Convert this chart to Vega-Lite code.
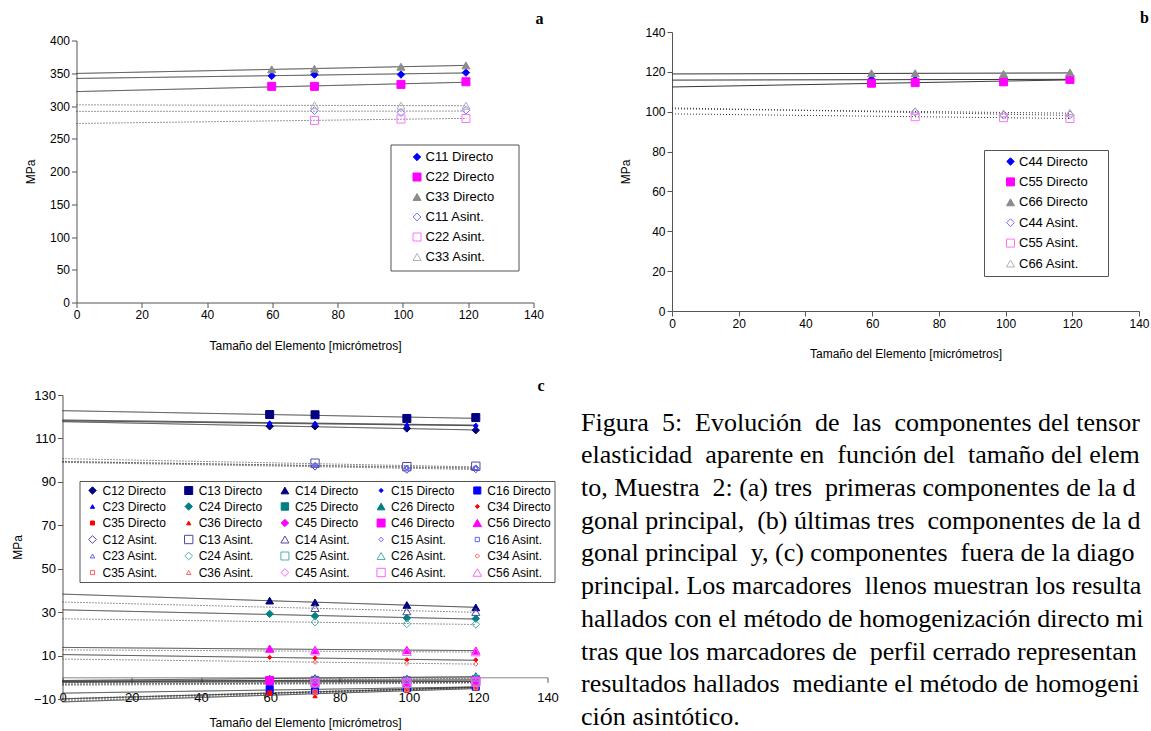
{
  "$schema": "https://vega.github.io/schema/vega-lite/v6.json",
  "background": "white",
  "padding": {"left": 10.5, "top": 10, "right": 0, "bottom": 0},
  "config": {
    "view": {"stroke": null},
    "font": "Liberation Sans",
    "axis": {"grid": false, "labelFont": "Liberation Sans", "titleFont": "Liberation Sans", "labelFontSize": 12, "titleFontSize": 12, "titleFontWeight": "normal", "labelColor": "#000", "titleColor": "#000", "domainColor": "#555", "tickColor": "#555", "tickSize": 5, "labelPadding": 2, "labelFlush": false, "labelOverlap": false},
    "legend": {"labelFont": "Liberation Sans", "labelFontSize": 12, "labelColor": "#000", "strokeColor": "#555", "fillColor": "#fff", "symbolStrokeWidth": 1, "labelOffset": 4},
    "title": {"font": "Liberation Serif", "fontSize": 16, "fontWeight": "bold", "color": "#000"}
  },
  "datasets": {
    "a": [
      {"serie": "C11 Directo", "metodo": "Directo", "tam": 59.8, "mpa": 346},
      {"serie": "C11 Directo", "metodo": "Directo", "tam": 72.9, "mpa": 348},
      {"serie": "C11 Directo", "metodo": "Directo", "tam": 99.4, "mpa": 348},
      {"serie": "C11 Directo", "metodo": "Directo", "tam": 119.3, "mpa": 351},
      {"serie": "C22 Directo", "metodo": "Directo", "tam": 59.8, "mpa": 330},
      {"serie": "C22 Directo", "metodo": "Directo", "tam": 72.9, "mpa": 330},
      {"serie": "C22 Directo", "metodo": "Directo", "tam": 99.4, "mpa": 333},
      {"serie": "C22 Directo", "metodo": "Directo", "tam": 119.3, "mpa": 337},
      {"serie": "C33 Directo", "metodo": "Directo", "tam": 59.8, "mpa": 356},
      {"serie": "C33 Directo", "metodo": "Directo", "tam": 72.9, "mpa": 357},
      {"serie": "C33 Directo", "metodo": "Directo", "tam": 99.4, "mpa": 360},
      {"serie": "C33 Directo", "metodo": "Directo", "tam": 119.3, "mpa": 362},
      {"serie": "C11 Asint.", "metodo": "Asint", "tam": 72.9, "mpa": 293},
      {"serie": "C11 Asint.", "metodo": "Asint", "tam": 99.4, "mpa": 290},
      {"serie": "C11 Asint.", "metodo": "Asint", "tam": 119.3, "mpa": 293.5},
      {"serie": "C22 Asint.", "metodo": "Asint", "tam": 72.9, "mpa": 278},
      {"serie": "C22 Asint.", "metodo": "Asint", "tam": 99.4, "mpa": 280},
      {"serie": "C22 Asint.", "metodo": "Asint", "tam": 119.3, "mpa": 281},
      {"serie": "C33 Asint.", "metodo": "Asint", "tam": 72.9, "mpa": 301},
      {"serie": "C33 Asint.", "metodo": "Asint", "tam": 99.4, "mpa": 300.5},
      {"serie": "C33 Asint.", "metodo": "Asint", "tam": 119.3, "mpa": 300.5}
    ],
    "b": [
      {"serie": "C44 Directo", "metodo": "Directo", "tam": 59.8, "mpa": 116.2},
      {"serie": "C44 Directo", "metodo": "Directo", "tam": 72.9, "mpa": 116.0},
      {"serie": "C44 Directo", "metodo": "Directo", "tam": 99.4, "mpa": 116.0},
      {"serie": "C44 Directo", "metodo": "Directo", "tam": 119.3, "mpa": 116.4},
      {"serie": "C55 Directo", "metodo": "Directo", "tam": 59.8, "mpa": 114.3},
      {"serie": "C55 Directo", "metodo": "Directo", "tam": 72.9, "mpa": 114.6},
      {"serie": "C55 Directo", "metodo": "Directo", "tam": 99.4, "mpa": 115.0},
      {"serie": "C55 Directo", "metodo": "Directo", "tam": 119.3, "mpa": 116.2},
      {"serie": "C66 Directo", "metodo": "Directo", "tam": 59.8, "mpa": 119.3},
      {"serie": "C66 Directo", "metodo": "Directo", "tam": 72.9, "mpa": 119.3},
      {"serie": "C66 Directo", "metodo": "Directo", "tam": 99.4, "mpa": 119.0},
      {"serie": "C66 Directo", "metodo": "Directo", "tam": 119.3, "mpa": 119.7},
      {"serie": "C44 Asint.", "metodo": "Asint", "tam": 72.9, "mpa": 99.8},
      {"serie": "C44 Asint.", "metodo": "Asint", "tam": 99.4, "mpa": 98.3},
      {"serie": "C44 Asint.", "metodo": "Asint", "tam": 119.3, "mpa": 98.4},
      {"serie": "C55 Asint.", "metodo": "Asint", "tam": 72.9, "mpa": 97.5},
      {"serie": "C55 Asint.", "metodo": "Asint", "tam": 99.4, "mpa": 97.0},
      {"serie": "C55 Asint.", "metodo": "Asint", "tam": 119.3, "mpa": 96.6},
      {"serie": "C66 Asint.", "metodo": "Asint", "tam": 72.9, "mpa": 100.3},
      {"serie": "C66 Asint.", "metodo": "Asint", "tam": 99.4, "mpa": 99.2},
      {"serie": "C66 Asint.", "metodo": "Asint", "tam": 119.3, "mpa": 99.5}
    ],
    "c": [
      {"serie": "C12 Directo", "metodo": "Directo", "tam": 59.8, "mpa": 115.6},
      {"serie": "C12 Directo", "metodo": "Directo", "tam": 72.9, "mpa": 115.6},
      {"serie": "C12 Directo", "metodo": "Directo", "tam": 99.4, "mpa": 114.6},
      {"serie": "C12 Directo", "metodo": "Directo", "tam": 119.3, "mpa": 113.8},
      {"serie": "C13 Directo", "metodo": "Directo", "tam": 59.8, "mpa": 121.0},
      {"serie": "C13 Directo", "metodo": "Directo", "tam": 72.9, "mpa": 120.9},
      {"serie": "C13 Directo", "metodo": "Directo", "tam": 99.4, "mpa": 119.2},
      {"serie": "C13 Directo", "metodo": "Directo", "tam": 119.3, "mpa": 119.6},
      {"serie": "C14 Directo", "metodo": "Directo", "tam": 59.8, "mpa": 35.3},
      {"serie": "C14 Directo", "metodo": "Directo", "tam": 72.9, "mpa": 34.5},
      {"serie": "C14 Directo", "metodo": "Directo", "tam": 99.4, "mpa": 33.3},
      {"serie": "C14 Directo", "metodo": "Directo", "tam": 119.3, "mpa": 32.2},
      {"serie": "C15 Directo", "metodo": "Directo", "tam": 59.8, "mpa": 117.0},
      {"serie": "C15 Directo", "metodo": "Directo", "tam": 72.9, "mpa": 116.8},
      {"serie": "C15 Directo", "metodo": "Directo", "tam": 99.4, "mpa": 116.0},
      {"serie": "C15 Directo", "metodo": "Directo", "tam": 119.3, "mpa": 116.0},
      {"serie": "C16 Directo", "metodo": "Directo", "tam": 59.8, "mpa": -5.5},
      {"serie": "C16 Directo", "metodo": "Directo", "tam": 72.9, "mpa": -6.0},
      {"serie": "C16 Directo", "metodo": "Directo", "tam": 99.4, "mpa": -5.0},
      {"serie": "C16 Directo", "metodo": "Directo", "tam": 119.3, "mpa": -4.3},
      {"serie": "C23 Directo", "metodo": "Directo", "tam": 59.8, "mpa": 117.3},
      {"serie": "C23 Directo", "metodo": "Directo", "tam": 72.9, "mpa": 117.1},
      {"serie": "C23 Directo", "metodo": "Directo", "tam": 99.4, "mpa": 116.4},
      {"serie": "C23 Directo", "metodo": "Directo", "tam": 119.3, "mpa": 116.2},
      {"serie": "C24 Directo", "metodo": "Directo", "tam": 59.8, "mpa": 29.2},
      {"serie": "C24 Directo", "metodo": "Directo", "tam": 72.9, "mpa": 28.2},
      {"serie": "C24 Directo", "metodo": "Directo", "tam": 99.4, "mpa": 27.3},
      {"serie": "C24 Directo", "metodo": "Directo", "tam": 119.3, "mpa": 27.0},
      {"serie": "C25 Directo", "metodo": "Directo", "tam": 59.8, "mpa": -1.5},
      {"serie": "C25 Directo", "metodo": "Directo", "tam": 72.9, "mpa": -1.3},
      {"serie": "C25 Directo", "metodo": "Directo", "tam": 99.4, "mpa": -1.5},
      {"serie": "C25 Directo", "metodo": "Directo", "tam": 119.3, "mpa": -1.0},
      {"serie": "C26 Directo", "metodo": "Directo", "tam": 59.8, "mpa": -0.5},
      {"serie": "C26 Directo", "metodo": "Directo", "tam": 72.9, "mpa": -0.3},
      {"serie": "C26 Directo", "metodo": "Directo", "tam": 99.4, "mpa": -0.5},
      {"serie": "C26 Directo", "metodo": "Directo", "tam": 119.3, "mpa": 0.6},
      {"serie": "C34 Directo", "metodo": "Directo", "tam": 59.8, "mpa": 9.2},
      {"serie": "C34 Directo", "metodo": "Directo", "tam": 72.9, "mpa": 8.9},
      {"serie": "C34 Directo", "metodo": "Directo", "tam": 99.4, "mpa": 8.0},
      {"serie": "C34 Directo", "metodo": "Directo", "tam": 119.3, "mpa": 8.0},
      {"serie": "C35 Directo", "metodo": "Directo", "tam": 59.8, "mpa": -7.2},
      {"serie": "C35 Directo", "metodo": "Directo", "tam": 72.9, "mpa": -6.8},
      {"serie": "C35 Directo", "metodo": "Directo", "tam": 99.4, "mpa": -5.6},
      {"serie": "C35 Directo", "metodo": "Directo", "tam": 119.3, "mpa": -4.6},
      {"serie": "C36 Directo", "metodo": "Directo", "tam": 59.8, "mpa": -7.5},
      {"serie": "C36 Directo", "metodo": "Directo", "tam": 72.9, "mpa": -8.6},
      {"serie": "C36 Directo", "metodo": "Directo", "tam": 99.4, "mpa": -6.2},
      {"serie": "C36 Directo", "metodo": "Directo", "tam": 119.3, "mpa": -5.0},
      {"serie": "C45 Directo", "metodo": "Directo", "tam": 59.8, "mpa": -2.0},
      {"serie": "C45 Directo", "metodo": "Directo", "tam": 72.9, "mpa": -2.2},
      {"serie": "C45 Directo", "metodo": "Directo", "tam": 99.4, "mpa": -2.2},
      {"serie": "C45 Directo", "metodo": "Directo", "tam": 119.3, "mpa": -1.8},
      {"serie": "C46 Directo", "metodo": "Directo", "tam": 59.8, "mpa": -1.5},
      {"serie": "C46 Directo", "metodo": "Directo", "tam": 72.9, "mpa": -2.0},
      {"serie": "C46 Directo", "metodo": "Directo", "tam": 99.4, "mpa": -2.0},
      {"serie": "C46 Directo", "metodo": "Directo", "tam": 119.3, "mpa": -1.5},
      {"serie": "C56 Directo", "metodo": "Directo", "tam": 59.8, "mpa": 13.2},
      {"serie": "C56 Directo", "metodo": "Directo", "tam": 72.9, "mpa": 12.6},
      {"serie": "C56 Directo", "metodo": "Directo", "tam": 99.4, "mpa": 12.6},
      {"serie": "C56 Directo", "metodo": "Directo", "tam": 119.3, "mpa": 12.3},
      {"serie": "C12 Asint.", "metodo": "Asint", "tam": 72.9, "mpa": 97.2},
      {"serie": "C12 Asint.", "metodo": "Asint", "tam": 99.4, "mpa": 95.7},
      {"serie": "C12 Asint.", "metodo": "Asint", "tam": 119.3, "mpa": 96.0},
      {"serie": "C13 Asint.", "metodo": "Asint", "tam": 72.9, "mpa": 98.6},
      {"serie": "C13 Asint.", "metodo": "Asint", "tam": 99.4, "mpa": 97.0},
      {"serie": "C13 Asint.", "metodo": "Asint", "tam": 119.3, "mpa": 97.2},
      {"serie": "C14 Asint.", "metodo": "Asint", "tam": 72.9, "mpa": 31.9},
      {"serie": "C14 Asint.", "metodo": "Asint", "tam": 99.4, "mpa": 30.4},
      {"serie": "C14 Asint.", "metodo": "Asint", "tam": 119.3, "mpa": 30.1},
      {"serie": "C15 Asint.", "metodo": "Asint", "tam": 72.9, "mpa": 97.5},
      {"serie": "C15 Asint.", "metodo": "Asint", "tam": 99.4, "mpa": 96.5},
      {"serie": "C15 Asint.", "metodo": "Asint", "tam": 119.3, "mpa": 96.3},
      {"serie": "C16 Asint.", "metodo": "Asint", "tam": 72.9, "mpa": -6.5},
      {"serie": "C16 Asint.", "metodo": "Asint", "tam": 99.4, "mpa": -5.3},
      {"serie": "C16 Asint.", "metodo": "Asint", "tam": 119.3, "mpa": -4.4},
      {"serie": "C23 Asint.", "metodo": "Asint", "tam": 72.9, "mpa": 97.7},
      {"serie": "C23 Asint.", "metodo": "Asint", "tam": 99.4, "mpa": 96.7},
      {"serie": "C23 Asint.", "metodo": "Asint", "tam": 119.3, "mpa": 96.6},
      {"serie": "C24 Asint.", "metodo": "Asint", "tam": 72.9, "mpa": 25.4},
      {"serie": "C24 Asint.", "metodo": "Asint", "tam": 99.4, "mpa": 24.6},
      {"serie": "C24 Asint.", "metodo": "Asint", "tam": 119.3, "mpa": 24.4},
      {"serie": "C25 Asint.", "metodo": "Asint", "tam": 72.9, "mpa": -2.5},
      {"serie": "C25 Asint.", "metodo": "Asint", "tam": 99.4, "mpa": -2.8},
      {"serie": "C25 Asint.", "metodo": "Asint", "tam": 119.3, "mpa": -2.2},
      {"serie": "C26 Asint.", "metodo": "Asint", "tam": 72.9, "mpa": -1.0},
      {"serie": "C26 Asint.", "metodo": "Asint", "tam": 99.4, "mpa": -1.2},
      {"serie": "C26 Asint.", "metodo": "Asint", "tam": 119.3, "mpa": -0.2},
      {"serie": "C34 Asint.", "metodo": "Asint", "tam": 72.9, "mpa": 7.0},
      {"serie": "C34 Asint.", "metodo": "Asint", "tam": 99.4, "mpa": 6.4},
      {"serie": "C34 Asint.", "metodo": "Asint", "tam": 119.3, "mpa": 6.1},
      {"serie": "C35 Asint.", "metodo": "Asint", "tam": 72.9, "mpa": -6.8},
      {"serie": "C35 Asint.", "metodo": "Asint", "tam": 99.4, "mpa": -5.6},
      {"serie": "C35 Asint.", "metodo": "Asint", "tam": 119.3, "mpa": -4.6},
      {"serie": "C36 Asint.", "metodo": "Asint", "tam": 72.9, "mpa": -7.2},
      {"serie": "C36 Asint.", "metodo": "Asint", "tam": 99.4, "mpa": -5.8},
      {"serie": "C36 Asint.", "metodo": "Asint", "tam": 119.3, "mpa": -4.8},
      {"serie": "C45 Asint.", "metodo": "Asint", "tam": 72.9, "mpa": -3.0},
      {"serie": "C45 Asint.", "metodo": "Asint", "tam": 99.4, "mpa": -3.0},
      {"serie": "C45 Asint.", "metodo": "Asint", "tam": 119.3, "mpa": -2.6},
      {"serie": "C46 Asint.", "metodo": "Asint", "tam": 72.9, "mpa": -2.6},
      {"serie": "C46 Asint.", "metodo": "Asint", "tam": 99.4, "mpa": -2.6},
      {"serie": "C46 Asint.", "metodo": "Asint", "tam": 119.3, "mpa": -2.2},
      {"serie": "C56 Asint.", "metodo": "Asint", "tam": 72.9, "mpa": 12.0},
      {"serie": "C56 Asint.", "metodo": "Asint", "tam": 99.4, "mpa": 11.8},
      {"serie": "C56 Asint.", "metodo": "Asint", "tam": 119.3, "mpa": 11.6}
    ]
  },
  "columns": 2,
  "align": "each",
  "center": true,
  "bounds": "flush",
  "spacing": {"row": 84, "column": 124.5},
  "resolve": {
    "scale": {"x": "independent", "y": "independent", "shape": "independent", "fill": "independent", "stroke": "independent", "size": "independent", "strokeDash": "independent"},
    "legend": {"shape": "independent", "fill": "independent", "stroke": "independent", "size": "independent"}
  },
  "concat": [
    {
      "width": 457, "height": 262,
      "title": {"text": "a", "anchor": "end", "frame": "group", "offset": 8, "dx": 10},
      "data": {"name": "a"},
      "encoding": {
        "x": {"field": "tam", "type": "quantitative", "scale": {"domain": [0, 140], "nice": false, "zero": false},
              "axis": {"title": "Tamaño del Elemento [micrómetros]", "values": [0, 20, 40, 60, 80, 100, 120, 140], "titlePadding": 20}},
        "y": {"field": "mpa", "type": "quantitative", "scale": {"domain": [0, 400], "nice": false, "zero": false},
              "axis": {"title": "MPa", "values": [0, 50, 100, 150, 200, 250, 300, 350, 400], "titlePadding": 12}}
      },
      "layer": [
        {
          "transform": [{"regression": "mpa", "on": "tam", "groupby": ["serie", "metodo"], "extent": [0, 119.5]}],
          "mark": {"type": "line", "color": "#333", "strokeWidth": 1},
          "encoding": {
            "detail": {"field": "serie", "type": "nominal"},
            "strokeDash": {"field": "metodo", "type": "nominal", "scale": {"domain": ["Directo", "Asint"], "range": [[1, 0], [1, 2]]}, "legend": null}
          }
        },
        {
          "mark": {"type": "point", "filled": true, "opacity": 1, "strokeWidth": 1},
          "encoding": {
            "shape": {"field": "serie", "type": "nominal", "scale": {"domain": ["C11 Directo", "C22 Directo", "C33 Directo", "C11 Asint.", "C22 Asint.", "C33 Asint."], "range": ["diamond", "square", "triangle-up", "diamond", "square", "triangle-up"]},
                      "legend": {"title": null, "orient": "none", "legendX": 314, "legendY": 104, "padding": 6, "symbolOffset": 14, "labelOffset": 2, "rowPadding": 6, "labelFontSize": 13, "labelExpr": "datum.label + '\u00a0\u00a0\u00a0\u00a0\u00a0\u200b'"}},
            "fill": {"field": "serie", "type": "nominal", "scale": {"domain": ["C11 Directo", "C22 Directo", "C33 Directo", "C11 Asint.", "C22 Asint.", "C33 Asint."], "range": ["#0000ff", "#ff00ff", "#8c8c8c", "transparent", "transparent", "transparent"]}},
            "stroke": {"field": "serie", "type": "nominal", "scale": {"domain": ["C11 Directo", "C22 Directo", "C33 Directo", "C11 Asint.", "C22 Asint.", "C33 Asint."], "range": ["#0000ff", "#ff00ff", "#8c8c8c", "#7070ff", "#ff70ff", "#b0b0b0"]}},
            "size": {"field": "serie", "type": "nominal", "scale": {"type": "ordinal", "domain": ["C11 Directo", "C22 Directo", "C33 Directo", "C11 Asint.", "C22 Asint.", "C33 Asint."], "range": [55, 64, 64, 60, 64, 64]}}
          }
        }
      ]
    },
    {
      "width": 467, "height": 279,
      "title": {"text": "b", "anchor": "end", "frame": "group", "offset": 0, "dx": 10},
      "data": {"name": "b"},
      "encoding": {
        "x": {"field": "tam", "type": "quantitative", "scale": {"domain": [0, 140], "nice": false, "zero": false},
              "axis": {"title": "Tamaño del Elemento [micrómetros]", "values": [0, 20, 40, 60, 80, 100, 120, 140], "titlePadding": 19}},
        "y": {"field": "mpa", "type": "quantitative", "scale": {"domain": [0, 140], "nice": false, "zero": false},
              "axis": {"title": "MPa", "values": [0, 20, 40, 60, 80, 100, 120, 140], "titlePadding": 12}}
      },
      "layer": [
        {
          "transform": [{"regression": "mpa", "on": "tam", "groupby": ["serie", "metodo"], "extent": [0, 119.5]}],
          "mark": {"type": "line", "color": "#333", "strokeWidth": 1},
          "encoding": {
            "detail": {"field": "serie", "type": "nominal"},
            "strokeDash": {"field": "metodo", "type": "nominal", "scale": {"domain": ["Directo", "Asint"], "range": [[1, 0], [1, 2]]}, "legend": null}
          }
        },
        {
          "mark": {"type": "point", "filled": true, "opacity": 1, "strokeWidth": 1},
          "encoding": {
            "shape": {"field": "serie", "type": "nominal", "scale": {"domain": ["C44 Directo", "C55 Directo", "C66 Directo", "C44 Asint.", "C55 Asint.", "C66 Asint."], "range": ["diamond", "square", "triangle-up", "diamond", "square", "triangle-up"]},
                      "legend": {"title": null, "orient": "none", "legendX": 312, "legendY": 118, "padding": 5, "symbolOffset": 15, "labelOffset": 2, "rowPadding": 6.4, "labelFontSize": 13, "labelExpr": "datum.label + '\u00a0\u00a0\u00a0\u00a0\u200b'"}},
            "fill": {"field": "serie", "type": "nominal", "scale": {"domain": ["C44 Directo", "C55 Directo", "C66 Directo", "C44 Asint.", "C55 Asint.", "C66 Asint."], "range": ["#0000ff", "#ff00ff", "#8c8c8c", "transparent", "transparent", "transparent"]}},
            "stroke": {"field": "serie", "type": "nominal", "scale": {"domain": ["C44 Directo", "C55 Directo", "C66 Directo", "C44 Asint.", "C55 Asint.", "C66 Asint."], "range": ["#0000ff", "#ff00ff", "#8c8c8c", "#7070ff", "#ff70ff", "#b0b0b0"]}},
            "size": {"field": "serie", "type": "nominal", "scale": {"type": "ordinal", "domain": ["C44 Directo", "C55 Directo", "C66 Directo", "C44 Asint.", "C55 Asint.", "C66 Asint."], "range": [55, 64, 64, 60, 64, 64]}}
          }
        }
      ]
    },
    {
      "width": 485, "height": 304,
      "title": {"text": "c", "anchor": "end", "frame": "group", "offset": -5, "dx": -3},
      "data": {"name": "c"},
      "encoding": {
        "x": {"field": "tam", "type": "quantitative", "scale": {"domain": [0, 140], "nice": false, "zero": false},
              "axis": {"title": "Tamaño del Elemento [micrómetros]", "values": [0, 20, 40, 60, 80, 100, 120, 140], "offset": -21.7, "labelPadding": 9, "labelFontSize": 13, "titlePadding": 13, "domainColor": "#888"}},
        "y": {"field": "mpa", "type": "quantitative", "scale": {"domain": [-10, 130], "nice": false, "zero": false},
              "axis": {"title": "MPa", "values": [-10, 10, 30, 50, 70, 90, 110, 130], "labelFontSize": 13, "titlePadding": 9}}
      },
      "layer": [
        {
          "transform": [{"regression": "mpa", "on": "tam", "groupby": ["serie", "metodo"], "extent": [0, 119.5]}],
          "mark": {"type": "line", "color": "#333", "strokeWidth": 1},
          "encoding": {
            "detail": {"field": "serie", "type": "nominal"},
            "strokeDash": {"field": "metodo", "type": "nominal", "scale": {"domain": ["Directo", "Asint"], "range": [[1, 0], [1, 2]]}, "legend": null}
          }
        },
        {
          "mark": {"type": "point", "filled": true, "opacity": 1, "strokeWidth": 1},
          "encoding": {
            "shape": {"field": "serie", "type": "nominal",
                      "scale": {"domain": ["C12 Directo","C13 Directo","C14 Directo","C15 Directo","C16 Directo","C23 Directo","C24 Directo","C25 Directo","C26 Directo","C34 Directo","C35 Directo","C36 Directo","C45 Directo","C46 Directo","C56 Directo","C12 Asint.","C13 Asint.","C14 Asint.","C15 Asint.","C16 Asint.","C23 Asint.","C24 Asint.","C25 Asint.","C26 Asint.","C34 Asint.","C35 Asint.","C36 Asint.","C45 Asint.","C46 Asint.","C56 Asint."],
                                "range": ["diamond","square","triangle-up","diamond","square","triangle-up","diamond","square","triangle-up","diamond","square","triangle-up","diamond","square","triangle-up","diamond","square","triangle-up","diamond","square","triangle-up","diamond","square","triangle-up","diamond","square","triangle-up","diamond","square","triangle-up"]},
                      "legend": {"title": null, "orient": "none", "direction": "horizontal", "legendX": 17, "legendY": 86, "columns": 5, "gridAlign": "all", "columnPadding": 12.2, "rowPadding": 2.5, "padding": 3, "symbolOffset": 4}},
            "fill": {"field": "serie", "type": "nominal",
                     "scale": {"domain": ["C12 Directo","C13 Directo","C14 Directo","C15 Directo","C16 Directo","C23 Directo","C24 Directo","C25 Directo","C26 Directo","C34 Directo","C35 Directo","C36 Directo","C45 Directo","C46 Directo","C56 Directo","C12 Asint.","C13 Asint.","C14 Asint.","C15 Asint.","C16 Asint.","C23 Asint.","C24 Asint.","C25 Asint.","C26 Asint.","C34 Asint.","C35 Asint.","C36 Asint.","C45 Asint.","C46 Asint.","C56 Asint."],
                               "range": ["#000080","#000080","#000080","#0000ff","#0000ff","#0000ff","#008080","#008080","#008080","#ff0000","#ff0000","#ff0000","#ff00ff","#ff00ff","#ff00ff","transparent","transparent","transparent","transparent","transparent","transparent","transparent","transparent","transparent","transparent","transparent","transparent","transparent","transparent","transparent"]}},
            "stroke": {"field": "serie", "type": "nominal",
                       "scale": {"domain": ["C12 Directo","C13 Directo","C14 Directo","C15 Directo","C16 Directo","C23 Directo","C24 Directo","C25 Directo","C26 Directo","C34 Directo","C35 Directo","C36 Directo","C45 Directo","C46 Directo","C56 Directo","C12 Asint.","C13 Asint.","C14 Asint.","C15 Asint.","C16 Asint.","C23 Asint.","C24 Asint.","C25 Asint.","C26 Asint.","C34 Asint.","C35 Asint.","C36 Asint.","C45 Asint.","C46 Asint.","C56 Asint."],
                                 "range": ["#000080","#000080","#000080","#0000ff","#0000ff","#0000ff","#008080","#008080","#008080","#ff0000","#ff0000","#ff0000","#ff00ff","#ff00ff","#ff00ff","#4a4aa6","#4a4aa6","#4a4aa6","#6060ff","#6060ff","#6060ff","#4fb0b0","#4fb0b0","#4fb0b0","#ff6060","#ff6060","#ff6060","#ff60ff","#ff60ff","#ff60ff"]}},
            "size": {"field": "serie", "type": "nominal",
                     "scale": {"type": "ordinal", "domain": ["C12 Directo","C13 Directo","C14 Directo","C15 Directo","C16 Directo","C23 Directo","C24 Directo","C25 Directo","C26 Directo","C34 Directo","C35 Directo","C36 Directo","C45 Directo","C46 Directo","C56 Directo","C12 Asint.","C13 Asint.","C14 Asint.","C15 Asint.","C16 Asint.","C23 Asint.","C24 Asint.","C25 Asint.","C26 Asint.","C34 Asint.","C35 Asint.","C36 Asint.","C45 Asint.","C46 Asint.","C56 Asint."],
                               "range": [55, 64, 60, 18, 50, 18, 55, 55, 60, 18, 16, 18, 55, 64, 70, 60, 70, 65, 20, 18, 20, 60, 64, 65, 20, 18, 20, 60, 70, 75]}}
          }
        }
      ]
    },
    {
      "width": 467, "height": 304,
      "title": {
        "text": ["Figura \u00a05: \u00a0Evolución \u00a0de \u00a0las \u00a0componentes del tensor",
                 "elasticidad \u00a0aparente en \u00a0función del \u00a0tamaño del elem",
                 "to, Muestra \u00a02: (a) tres \u00a0primeras componentes de la d",
                 "gonal principal, \u00a0(b) últimas tres \u00a0componentes de la d",
                 "gonal principal \u00a0y, (c) componentes \u00a0fuera de la diago",
                 "principal. Los marcadores \u00a0llenos muestran los resulta",
                 "hallados con el método de homogenización directo mi",
                 "tras que los marcadores de \u00a0perfil cerrado representan",
                 "resultados hallados \u00a0mediante el método de homogeni",
                 "ción asintótico."],
        "orient": "top", "anchor": "start", "frame": "group", "align": "left", "baseline": "top",
        "font": "Liberation Serif", "fontSize": 26, "fontWeight": "normal", "lineHeight": 32.7,
        "offset": 0, "dx": -91, "dy": 335, "limit": 568
      },
      "data": {"values": [{}]},
      "mark": {"type": "text", "text": ""},
      "encoding": {}
    }
  ]
}
